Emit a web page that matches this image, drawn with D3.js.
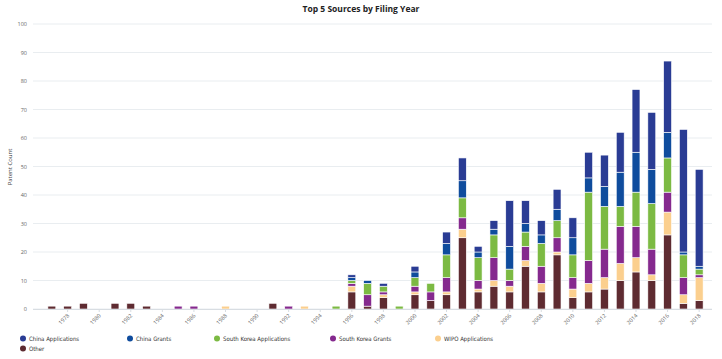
<!DOCTYPE html>
<html><head><meta charset="utf-8">
<script src="https://cdn.jsdelivr.net/npm/d3@7"></script>
<style>body{margin:0;background:#fff;}svg{display:block;font-family:"Open Sans",sans-serif;}
.leg{font-family:"Liberation Sans Narrow","DejaVu Sans Condensed","Open Sans",sans-serif;font-stretch:condensed;}</style>
</head><body><svg id="c" width="722" height="359"></svg>
<script>
const years = d3.range(1977, 2019);
const seriesNames = ["Other","WIPO Applications","South Korea Grants","South Korea Applications","China Grants","China Applications"];
//                 1977 .............................................................................................. 2018
const other   = [1,1,2,0,2,2,1,0,0,0,0,0,0,0,2,0,0,0,0,6,1,4,0,5,3,5,25,6,8,6,15,6,19,4,6,7,10,13,10,26,2,3];
const wipo    = [0,0,0,0,0,0,0,0,0,0,0,1,0,0,0,0,1,0,0,2,0,1,0,1,0,1,3,1,2,2,2,3,1,3,3,4,6,5,2,8,3,8];
const skGrants= [0,0,0,0,0,0,0,0,1,1,0,0,0,0,0,1,0,0,0,1,4,1,0,2,3,5,4,3,8,2,5,6,5,4,8,10,13,11,9,7,6,1];
const skApps  = [0,0,0,0,0,0,0,0,0,0,0,0,0,0,0,0,0,0,1,1,4,2,1,3,3,8,7,8,8,4,5,8,6,8,24,15,7,12,16,12,8,2];
const cnGrants= [0,0,0,0,0,0,0,0,0,0,0,0,0,0,0,0,0,0,0,1,1,0,0,2,0,4,6,2,2,8,3,3,4,6,5,7,12,14,12,9,1,1];
const cnApps  = [0,0,0,0,0,0,0,0,0,0,0,0,0,0,0,0,0,0,0,1,0,1,0,2,0,4,8,2,3,16,8,5,7,7,9,11,14,22,20,25,43,34];
const yTicks = d3.range(0, 101, 10);
const xTickYears = d3.range(1978, 2019, 2);
const legendOrder = ["China Applications","China Grants","South Korea Applications","South Korea Grants","WIPO Applications","Other"];

const colors = {"China Applications":"#2a3c94","China Grants":"#0f4c9d","South Korea Applications":"#7cba43",
  "South Korea Grants":"#85298e","WIPO Applications":"#fbcf8e","Other":"#5e2b31"};
const seriesData = {"Other":other,"WIPO Applications":wipo,"South Korea Grants":skGrants,
  "South Korea Applications":skApps,"China Grants":cnGrants,"China Applications":cnApps};

const rows = years.map((y,i)=>{const r={year:y}; seriesNames.forEach(s=>r[s]=seriesData[s][i]); return r;});
const stack = d3.stack().keys(seriesNames)(rows);

const svg = d3.select("#c");
const x = d3.scaleBand().domain(years).range([40,711]).padding(0.5);
const y = d3.scaleLinear().domain([0,100]).range([309,24]);

// grid
svg.append("g").selectAll("line").data(yTicks).join("line")
  .attr("x1",33).attr("x2",712).attr("y1",d=>y(d)).attr("y2",d=>y(d))
  .attr("stroke","#e9edf0").attr("stroke-width",1);
svg.append("g").selectAll("text").data(yTicks).join("text")
  .attr("x",27).attr("y",d=>y(d)+2).attr("text-anchor","end")
  .attr("font-size",5.5).attr("fill","#666").text(d=>d);

svg.append("text").attr("transform","translate(12,167) rotate(-90)").attr("text-anchor","middle")
  .attr("font-size",6).attr("fill","#444").text("Patent Count");

// bars
svg.append("g").selectAll("g").data(stack).join("g").attr("fill",d=>colors[d.key])
  .selectAll("rect").data(d=>d.filter(p=>p[1]>p[0])).join("rect")
  .attr("x",d=>x(d.data.year)).attr("width",x.bandwidth())
  .attr("y",d=>y(d[1])).attr("height",d=>y(d[0])-y(d[1]))
  .attr("stroke","#fff").attr("stroke-width",0.6);

// x axis
svg.append("line").attr("x1",33).attr("x2",712).attr("y1",309.5).attr("y2",309.5).attr("stroke","#d8dde2");
const xt = svg.append("g").selectAll("g").data(xTickYears).join("g")
  .attr("transform",d=>`translate(${x(d)+x.bandwidth()/2},309)`);
xt.append("line").attr("y1",0).attr("y2",3).attr("stroke","#d8dde2");
xt.append("text").attr("transform","translate(2,7) rotate(-45)").attr("text-anchor","end")
  .attr("font-size",5.5).attr("fill","#666").text(d=>d);

// title
svg.append("text").attr("x",361).attr("y",12).attr("text-anchor","middle")
  .attr("font-size",8.5).attr("font-weight","bold").attr("fill","#222").text("Top 5 Sources by Filing Year");

// legend
const legX = [23,130,217,333,438,23];
const legY = [338.5,338.5,338.5,338.5,338.5,348.5];
const lg = svg.append("g").attr("class","leg").selectAll("g").data(legendOrder).join("g")
  .attr("transform",(d,i)=>`translate(${legX[i]},${legY[i]})`);
lg.append("circle").attr("r",3).attr("fill",d=>colors[d]);
lg.append("text").attr("x",6).attr("y",2.2).attr("font-size",6).attr("fill","#333").text(d=>d);
</script></body></html>
